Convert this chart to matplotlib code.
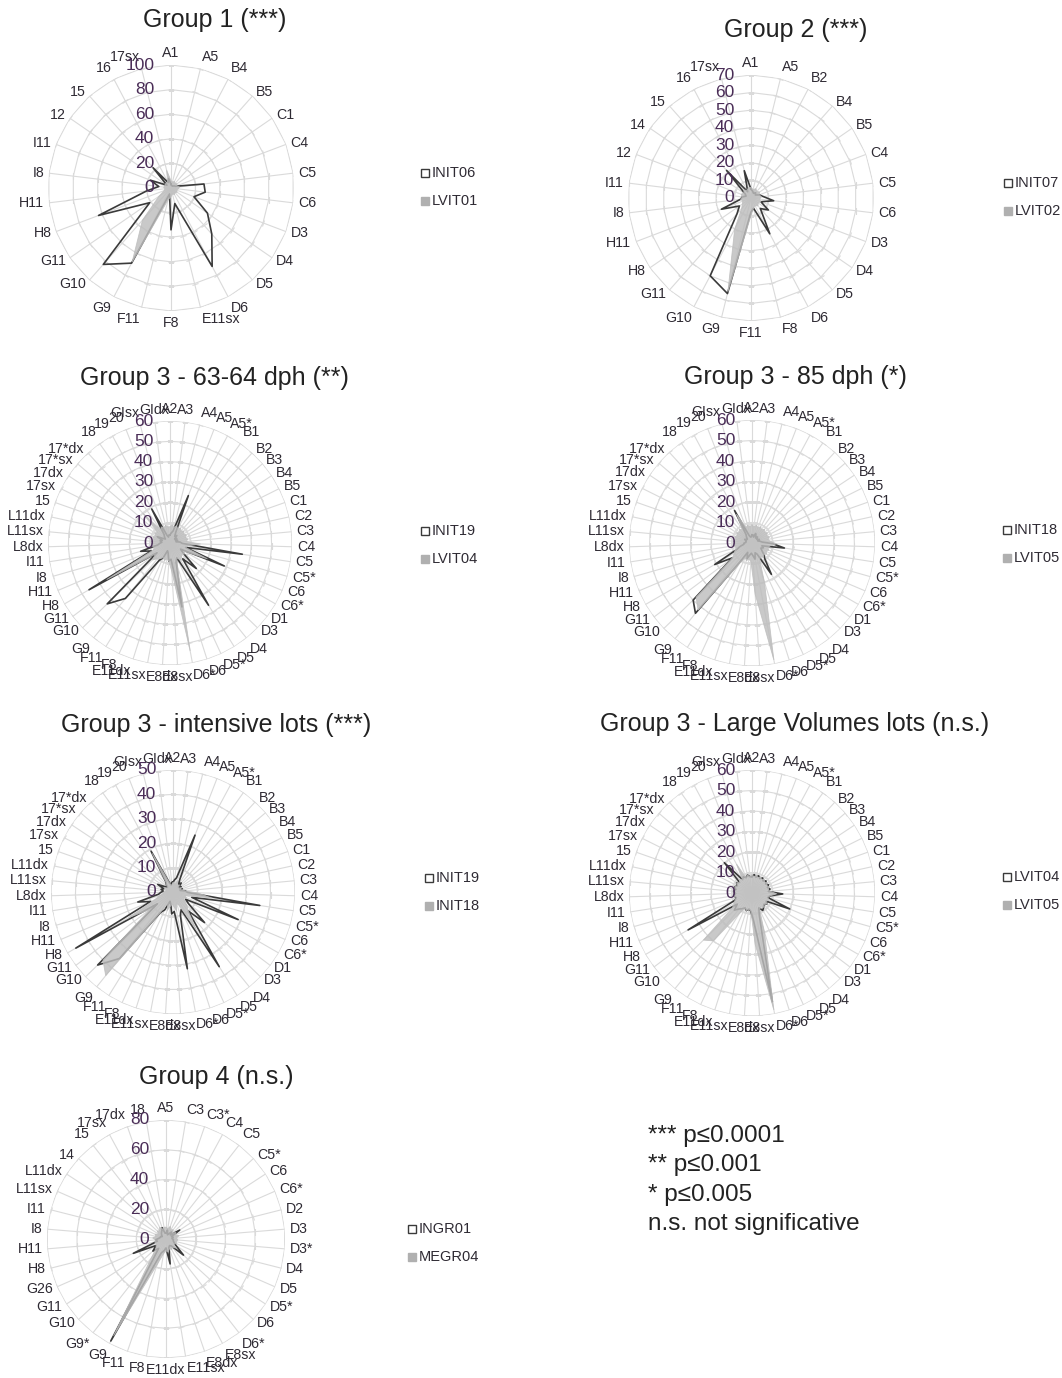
import numpy as np
import matplotlib
matplotlib.use('Agg')
import matplotlib.pyplot as plt
from matplotlib.markers import MarkerStyle
from matplotlib.patches import Rectangle
from matplotlib.transforms import Affine2D

plt.rcParams['font.family'] = ['Liberation Sans', 'DejaVu Sans']

W, H = 1062, 1378

# ---------------- data ----------------
g1_cats = ["A1", "A5", "B4", "B5", "C1", "C4", "C5", "C6", "D3", "D4", "D5", "D6", "E11sx",
           "F8", "F11", "G9", "G10", "G11", "H8", "H11", "I8", "I11", "12", "15", "16", "17sx"]
g1_init06 = [3, 2, 2, 2, 3, 4, 27, 28, 20, 36, 50, 72, 13, 34, 5, 69, 83, 21, 63, 20, 10, 18, 4, 22, 5, 8]
g1_lvit01 = [6, 5, 6, 5, 6, 5, 7, 6, 5, 6, 5, 6, 5, 7, 10, 68, 35, 12, 6, 5, 6, 5, 6, 5, 6, 15]

g2_cats = ["A1", "A5", "B2", "B4", "B5", "C4", "C5", "C6", "D3", "D4", "D5", "D6", "F8",
           "F11", "G9", "G10", "G11", "H8", "H11", "I8", "I11", "12", "14", "15", "16", "17sx"]
g2_init07 = [5, 4, 3, 4, 3, 5, 7, 13, 6, 12, 8, 23, 6, 8, 56, 50, 12, 8, 18, 6, 5, 3, 4, 21, 4, 16]
g2_lvit02 = [6, 5, 6, 5, 6, 5, 6, 5, 6, 5, 6, 5, 6, 10, 55, 20, 8, 6, 5, 6, 5, 6, 5, 6, 5, 6]

g3_cats = ["A2", "A3", "A4", "A5", "A5*", "B1", "B2", "B3", "B4", "B5",
           "C1", "C2", "C3", "C4", "C5", "C5*", "C6", "C6*",
           "D1", "D3", "D4", "D5", "D5*", "D6", "D6*",
           "E8sx", "E8dx", "E11sx", "E11dx", "F8", "F11", "G9", "G10", "G11",
           "H8", "H11", "I8", "I11", "L8dx", "L11sx", "L11dx",
           "15", "17sx", "17dx", "17*sx", "17*dx", "18", "19", "20", "GIsx", "GIdx"]
g3_init19 = [4, 5, 6, 25, 6, 4, 5, 3, 4, 3,
             4, 3, 5, 6, 36, 8, 29, 6,
             8, 18, 10, 36, 8, 10, 32,
             8, 9, 5, 4, 8, 10, 35, 43, 8,
             46, 10, 15, 6, 5, 4, 5,
             4, 7, 4, 3, 4, 5, 19, 4, 3, 4]
g3_init18 = [4, 4, 3, 5, 4, 3, 4, 3, 3, 4,
             3, 4, 5, 10, 16, 5, 6, 5,
             6, 8, 10, 18, 6, 5, 8,
             6, 5, 6, 8, 5, 10, 44, 40, 12,
             21, 8, 6, 4, 4, 3, 3,
             3, 4, 3, 3, 4, 5, 18, 4, 3, 3]
g3_lvit04 = [8, 9, 8, 9, 8, 9, 8, 9, 8, 9,
             8, 9, 8, 15, 9, 8, 20, 8,
             9, 8, 9, 10, 8, 12, 54,
             14, 9, 8, 9, 8, 9, 10, 12, 9,
             36, 9, 8, 9, 8, 9, 8,
             9, 8, 9, 8, 20, 8, 9, 8, 9, 8]
# LVIT05 as drawn in the 85 dph panel and in the Large Volumes panel
g3_85_lvit05 = [9, 8, 9, 8, 9, 8, 9, 8, 9, 8,
                9, 8, 9, 12, 9, 8, 9, 8,
                9, 8, 9, 8, 9, 20, 58,
                25, 9, 8, 9, 8, 12, 42, 38, 12,
                10, 9, 8, 9, 8, 9, 8,
                9, 8, 9, 8, 9, 8, 16, 8, 9, 8]
g3_lv_lvit05 = [9, 8, 9, 8, 9, 8, 9, 8, 9, 8,
                9, 8, 9, 12, 9, 8, 9, 8,
                9, 8, 9, 8, 9, 20, 58,
                25, 9, 8, 9, 8, 12, 30, 33, 12,
                10, 9, 8, 9, 8, 9, 8,
                9, 8, 9, 8, 9, 8, 16, 8, 9, 8]

g4_cats = ["A5", "C3", "C3*", "C4", "C5", "C5*", "C6", "C6*", "D2", "D3", "D3*", "D4", "D5",
           "D5*", "D6", "D6*", "E8sx", "E8dx", "E11sx", "E11dx", "F8", "F11", "G9", "G9*",
           "G10", "G11", "G26", "H8", "H11", "I8", "I11", "L11sx", "L11dx", "14", "15",
           "17sx", "17dx", "18"]
g4_ingr01 = [4, 6, 3, 4, 6, 4, 11, 4, 5, 4, 5, 5, 6, 8, 16, 6, 5, 6, 17, 6,
             8, 10, 78, 8, 12, 8, 24, 6, 7, 5, 4, 4, 3, 4, 5, 6, 8, 4]
g4_megr04 = [8, 7, 9, 7, 8, 6, 8, 7, 9, 7, 8, 7, 8, 6, 9, 7, 8, 7, 9, 8,
             10, 18, 74, 16, 9, 8, 7, 8, 7, 9, 7, 8, 6, 8, 7, 9, 7, 8]

signif = ["*** p\u22640.0001", "** p\u22640.001", "* p\u22640.005", "n.s. not significative"]

DARK = '#3a3a3a'
FILL = '#bdbdbd'
GRID = '#dadada'
LABEL = '#2e2a33'
TICK = '#4a2d57'

fig = plt.figure(figsize=(W / 100, H / 100), dpi=100)


def radar(cx, cy, R, cats, line_vals, fill_vals, vmax, step, title, title_xy, names, legend_xy):
    ax = fig.add_axes([(cx - R) / W, 1 - (cy + R) / H, 2 * R / W, 2 * R / H], projection='polar')
    ax.set_theta_zero_location('N')
    ax.set_theta_direction(-1)
    ax.set_ylim(0, vmax)
    ax.set_axis_off()

    n = len(cats)
    theta = np.arange(n) * 2 * np.pi / n
    tc = np.append(theta, theta[0])
    levels = np.arange(step, vmax + step / 2, step)

    # grid polygons, spokes and spoke ticks
    for lv in levels:
        ax.plot(tc, [lv] * (n + 1), color=GRID, lw=0.8, zorder=1)
    for t in theta:
        ax.plot([t, t], [0, vmax], color=GRID, lw=0.8, zorder=1)
        mk = MarkerStyle('|', transform=Affine2D().rotate_deg(90 - np.degrees(t)))
        ax.plot([t] * len(levels), levels, ls='none', marker=mk, ms=5, mec=GRID, mew=0.8, zorder=1)

    # series
    ax.plot(tc, list(line_vals) + [line_vals[0]], color=DARK, lw=1.2, zorder=2)
    ax.fill(tc, list(fill_vals) + [fill_vals[0]], fc=FILL, ec=FILL, lw=0.6, alpha=0.82, zorder=3)

    # value labels on the top axis
    for v in np.arange(0, vmax + step / 2, step):
        ax.annotate(f'{v:g}', xy=(0, v), xytext=(-12, 0), textcoords='offset points',
                    ha='right', va='center', fontsize=12.5, color=TICK, zorder=4)

    # category labels
    for t, c in zip(theta, cats):
        s, co = np.sin(t), np.cos(t)
        ha = 'left' if s > 0.15 else ('right' if s < -0.15 else 'center')
        va = 'bottom' if co > 0.75 else ('top' if co < -0.75 else 'center')
        ax.annotate(c, xy=(t, vmax), xytext=(3.5 * s, 3.5 * co), textcoords='offset points',
                    ha=ha, va=va, fontsize=10.2, color=LABEL)

    fig.text(title_xy[0] / W, 1 - title_xy[1] / H, title, ha='center', va='center',
             fontsize=18, color='#222222')

    lx, ly = legend_xy
    for k, nm in enumerate(names):
        y = ly + 28 * k
        fc = 'white' if k == 0 else '#b0b0b0'
        ec = DARK if k == 0 else '#b0b0b0'
        fig.patches.append(Rectangle((lx / W, 1 - (y + 4) / H), 8 / W, 8 / H,
                                     transform=fig.transFigure, fc=fc, ec=ec, lw=1))
        fig.text((lx + 11) / W, 1 - y / H, nm, ha='left', va='center', fontsize=10.5, color=LABEL)


radar(171, 188, 123, g1_cats, g1_init06, g1_lvit01, 100, 20, 'Group 1 (***)', (215, 20),
      ['INIT06', 'LVIT01'], (421, 173))
radar(751, 198, 123, g2_cats, g2_init07, g2_lvit02, 70, 10, 'Group 2 (***)', (796, 30),
      ['INIT07', 'LVIT02'], (1004, 183))
radar(170, 543, 122, g3_cats, g3_init19, g3_lvit04, 60, 10, 'Group 3 - 63-64 dph (**)', (214, 378),
      ['INIT19', 'LVIT04'], (421, 531))
radar(752, 543, 123, g3_cats, g3_init18, g3_85_lvit05, 60, 10, 'Group 3 - 85 dph (*)', (795, 377),
      ['INIT18', 'LVIT05'], (1003, 530))
radar(173, 892, 122, g3_cats, g3_init19, g3_init18, 50, 10, 'Group 3 - intensive lots (***)', (216, 725),
      ['INIT19', 'INIT18'], (425, 878))
radar(752, 893, 123, g3_cats, g3_lvit04, g3_lv_lvit05, 60, 10, 'Group 3 - Large Volumes lots (n.s.)', (795, 724),
      ['LVIT04', 'LVIT05'], (1003, 877))
radar(166, 1239, 119, g4_cats, g4_ingr01, g4_megr04, 80, 20, 'Group 4 (n.s.)', (216, 1077),
      ['INGR01', 'MEGR04'], (408, 1229))

for i, line in enumerate(signif):
    fig.text(648 / W, 1 - (1136 + 29.3 * i) / H, line, ha='left', va='center',
             fontsize=17.5, color='#222222')

fig.savefig('out.png', dpi=100, facecolor='white')
